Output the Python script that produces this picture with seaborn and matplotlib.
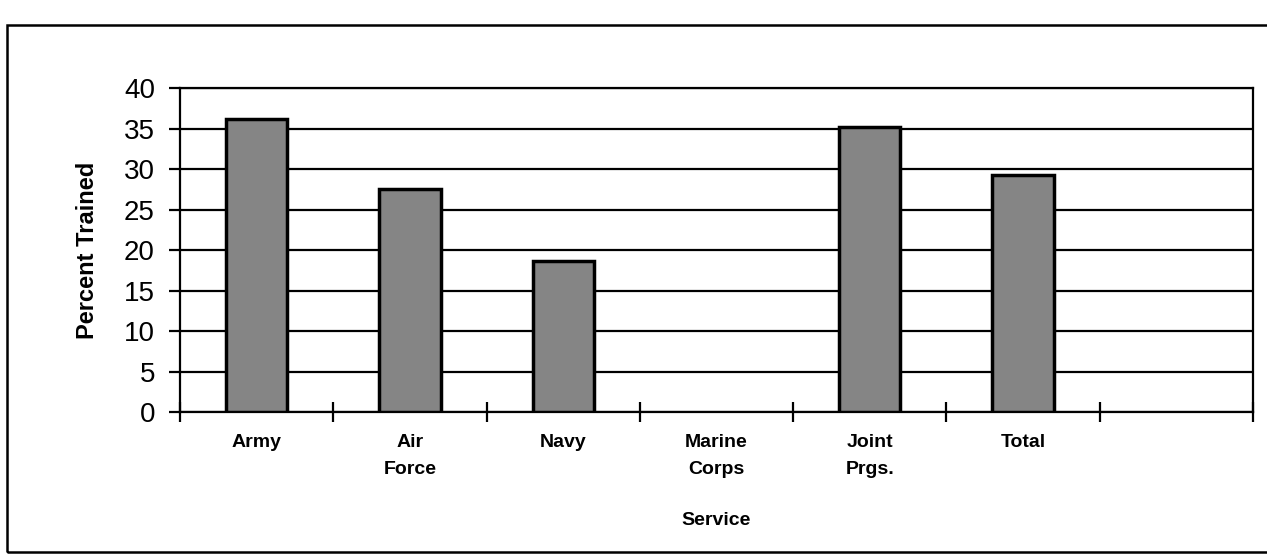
# ============================================
# PERCENT TRAINED BY SERVICE
# ============================================

import numpy as np
import pandas as pd
import seaborn as sns
import matplotlib.pyplot as plt
from matplotlib.patches import Rectangle
from matplotlib.ticker import FixedLocator

# ============================================
# DATA
# ============================================

services = ["Army", "Air\nForce", "Navy", "Marine\nCorps", "Joint\nPrgs.", "Total"]
percent_trained = [36.2, 27.5, 18.6, 0.0, 35.2, 29.3]
y_ticks = [0, 5, 10, 15, 20, 25, 30, 35, 40]

df = pd.DataFrame({"Service": services, "Percent": percent_trained})

# ============================================
# PLOT
# ============================================

sns.set_style("white")
plt.rcParams["font.family"] = ["Liberation Sans", "DejaVu Sans"]
plt.rcParams["text.color"] = "black"
plt.rcParams["axes.labelcolor"] = "black"
plt.rcParams["xtick.color"] = "black"
plt.rcParams["ytick.color"] = "black"

fig = plt.figure(figsize=(12.67, 5.58), dpi=100)
ax = fig.add_axes([0.142, 0.2616, 0.847, 0.5806])

sns.barplot(
    data=df,
    x="Service",
    y="Percent",
    order=services,
    color="#858585",
    width=0.4,
    edgecolor="black",
    linewidth=2.5,
    saturation=1,
    ax=ax,
    zorder=3,
)

# empty bars should leave no outline
for bar in ax.patches:
    if bar.get_height() == 0:
        bar.set_visible(False)

ax.set_xlim(-0.5, 6.5)
ax.set_ylim(0, 40)
ax.set_yticks(y_ticks)
ax.yaxis.grid(True, color="black", linewidth=1.6, zorder=0)
ax.set_axisbelow(True)

for side in ["left", "bottom", "right", "top"]:
    ax.spines[side].set_color("black")
    ax.spines[side].set_linewidth(1.6)
    ax.spines[side].set_visible(True)

# category labels at bar centres, ticks at slot boundaries
ax.set_xticks(range(len(services)))
ax.set_xticklabels(services, fontsize=14, fontweight="bold", linespacing=1.75)
ax.tick_params(axis="x", which="major", length=0, pad=16)
ax.xaxis.set_minor_locator(FixedLocator(np.arange(-0.5, 7.0, 1.0)))
ax.tick_params(axis="x", which="minor", direction="inout", length=14,
               width=1.6, color="black", bottom=True)

ax.tick_params(axis="y", direction="out", length=8, width=1.6,
               color="black", labelsize=20, pad=10, left=True)

ax.set_xlabel("Service", fontsize=14, fontweight="bold")
ax.set_ylabel("Percent Trained", fontsize=17, fontweight="bold", labelpad=18)
ax.xaxis.set_label_coords(0.5, -0.31)

# outer frame around the chart
fig.patches.append(Rectangle((7 / 1267, 6 / 558), 1.2, 527 / 558,
                             transform=fig.transFigure, fill=False,
                             edgecolor="black", linewidth=1.8))

plt.savefig("out.png", dpi=100)
